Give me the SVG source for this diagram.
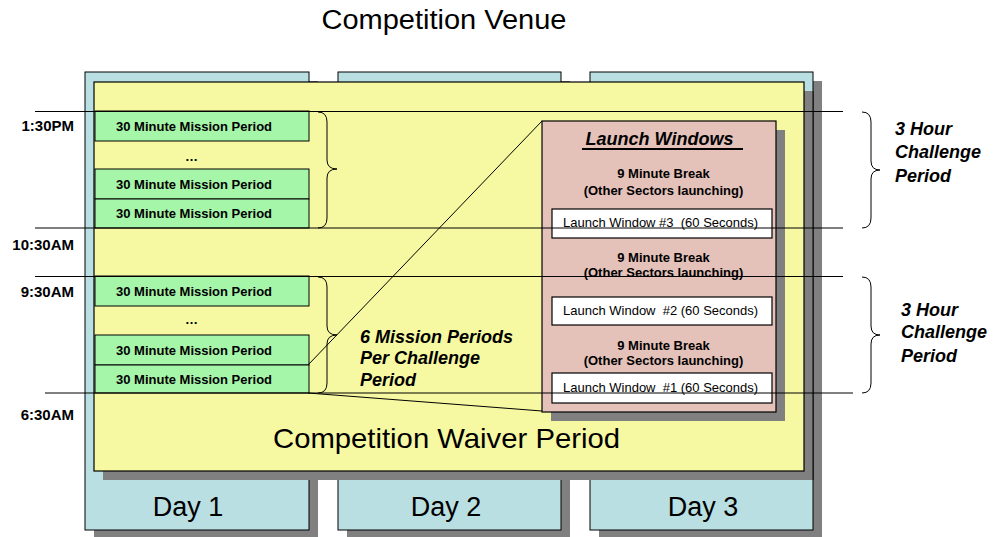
<svg xmlns="http://www.w3.org/2000/svg" width="994" height="537" viewBox="0 0 994 537">
<style>
text{font-family:"Liberation Sans",Arial,sans-serif;fill:#000}
.sh{fill:#808080}
.day{fill:#b9dfe2;stroke:#000;stroke-width:1}
.yel{fill:#f6f9a2;stroke:#000;stroke-width:1.2}
.grn{fill:#a6f6aa;stroke:#000;stroke-width:1}
.pink{fill:#e4c1b9;stroke:#000;stroke-width:1.2}
.wht{fill:#fff;stroke:#000;stroke-width:1.2}
.ln{stroke:#000;stroke-width:1;fill:none}
.mp{font-size:13px;font-weight:bold;text-anchor:middle}
.tm{font-size:15px;font-weight:bold;text-anchor:end}
.brk{font-size:13px;font-weight:bold;text-anchor:middle}
.lw{font-size:13px}
.it{font-size:18px;font-weight:bold;font-style:italic}
.big{font-size:27px;text-anchor:middle}
</style>
<g id="days">
<g id="day1">
<rect class="sh" x="94" y="81" width="224" height="458"/>
<rect class="day" x="85" y="72" width="224" height="458"/>
<text class="big" x="188" y="516">Day 1</text>
</g>
<g id="day2">
<rect class="sh" x="347" y="81" width="223" height="458"/>
<rect class="day" x="338" y="72" width="223" height="458"/>
<text class="big" x="446" y="516">Day 2</text>
</g>
<g id="day3">
<rect class="sh" x="599" y="81" width="223" height="458"/>
<rect class="day" x="590" y="72" width="223" height="458"/>
<text class="big" x="703" y="516">Day 3</text>
</g>
</g>
<g id="waiver">
<rect class="sh" x="103" y="91" width="710" height="389"/>
<line class="ln" x1="813" y1="91" x2="813" y2="480"/>
<rect class="yel" x="94" y="82" width="710" height="389"/>
<text x="446.5" y="448" font-size="28" text-anchor="middle" textLength="347" lengthAdjust="spacingAndGlyphs">Competition Waiver Period</text>
</g>
<g id="mission-periods">
<rect class="grn" x="95" y="111" width="214" height="30"/>
<text class="mp" x="194" y="130.5">30 Minute Mission Period</text>
<text class="mp" x="191.5" y="161">…</text>
<rect class="grn" x="95" y="169" width="214" height="30"/>
<text class="mp" x="194" y="188.5">30 Minute Mission Period</text>
<rect class="grn" x="95" y="199" width="214" height="29"/>
<text class="mp" x="194" y="218">30 Minute Mission Period</text>
<rect class="grn" x="95" y="276" width="214" height="30"/>
<text class="mp" x="194" y="295.5">30 Minute Mission Period</text>
<text class="mp" x="191.5" y="324">…</text>
<rect class="grn" x="95" y="335" width="214" height="30"/>
<text class="mp" x="194" y="354.5">30 Minute Mission Period</text>
<rect class="grn" x="95" y="365" width="214" height="28"/>
<text class="mp" x="194" y="383.5">30 Minute Mission Period</text>
</g>
<g id="launch-windows">
<rect class="sh" x="551" y="130" width="234" height="291"/>
<rect class="pink" x="542" y="121" width="234" height="291"/>
<text x="659.5" y="145" font-size="18" font-weight="bold" font-style="italic" text-anchor="middle">Launch Windows</text>
<line x1="582" y1="149" x2="743" y2="149" stroke="#000" stroke-width="2"/>
<text class="brk" x="663.5" y="178">9 Minute Break</text>
<text class="brk" x="663.5" y="195">(Other Sectors launching)</text>
<rect class="wht" x="552" y="209" width="220" height="29"/>
<text class="lw" x="563" y="227" xml:space="preserve">Launch Window #3  (60 Seconds)</text>
<text class="brk" x="663.5" y="262">9 Minute Break</text>
<text class="brk" x="663.5" y="277">(Other Sectors launching)</text>
<rect class="wht" x="552" y="297" width="220" height="28"/>
<text class="lw" x="563" y="314.5" xml:space="preserve">Launch Window  #2 (60 Seconds)</text>
<text class="brk" x="663.5" y="349.5">9 Minute Break</text>
<text class="brk" x="663.5" y="364.5">(Other Sectors launching)</text>
<rect class="wht" x="552" y="373" width="220" height="30"/>
<text class="lw" x="563" y="392" xml:space="preserve">Launch Window  #1 (60 Seconds)</text>
</g>
<g id="connectors">
<line class="ln" x1="35" y1="111.5" x2="843" y2="111.5"/>
<line class="ln" x1="35" y1="228" x2="843" y2="228"/>
<line class="ln" x1="35" y1="276.5" x2="843" y2="276.5"/>
<line class="ln" x1="45" y1="393" x2="853" y2="393"/>
<line class="ln" x1="308" y1="365" x2="542" y2="121"/>
<line class="ln" x1="308" y1="393" x2="542" y2="411"/>
<path class="ln" d="M318,112 Q327,112 327,122 L327,160 Q327,169 337,169 Q327,169 327,178 L327,218 Q327,228 318,228"/>
<path class="ln" d="M318,277 Q327,277 327,287 L327,326 Q327,335 337,335 Q327,335 327,344 L327,383 Q327,393 318,393"/>
<path class="ln" d="M862,112 Q871,112 871,122 L871,161 Q871,170 880,170 Q871,170 871,179 L871,218 Q871,228 862,228"/>
<path class="ln" d="M862,277 Q871,277 871,287 L871,326 Q871,335 880,335 Q871,335 871,344 L871,383 Q871,393 862,393"/>
</g>
<g id="labels">
<text x="444" y="29" font-size="27" text-anchor="middle" textLength="245" lengthAdjust="spacingAndGlyphs">Competition Venue</text>
<text class="tm" x="74" y="131">1:30PM</text>
<text class="tm" x="74" y="250">10:30AM</text>
<text class="tm" x="74" y="297">9:30AM</text>
<text class="tm" x="74" y="420">6:30AM</text>
<text class="it" x="360" y="343">6 Mission Periods</text>
<text class="it" x="360" y="364">Per Challenge</text>
<text class="it" x="360" y="386">Period</text>
<text class="it" x="895" y="135">3 Hour</text>
<text class="it" x="895" y="158">Challenge</text>
<text class="it" x="895" y="181.5">Period</text>
<text class="it" x="901" y="315.5">3 Hour</text>
<text class="it" x="901" y="338">Challenge</text>
<text class="it" x="901" y="361.5">Period</text>
</g>
</svg>
